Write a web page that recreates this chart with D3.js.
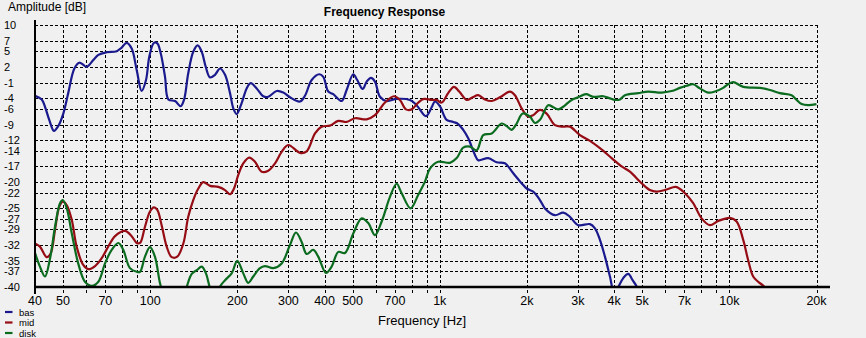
<!DOCTYPE html>
<html>
<head>
<meta charset="utf-8">
<script src="https://cdn.jsdelivr.net/npm/d3@7"></script>
<style>
  html, body { margin: 0; padding: 0; background: #f0f0f0; }
  svg { display: block; font-family: "Liberation Sans", Arial, sans-serif; }
</style>
</head>
<body>
<svg id="chart" width="866" height="338"></svg>
<script>
// Amplitude tick values (dB) as printed on the vertical axis
const yTicks = [10, 7, 5, 2, -1, -4, -6, -9, -12, -14, -17, -20, -22, -25, -27, -29, -32, -35, -37, -40];
// Frequencies with a vertical grid line (Hz)
const xGrid = [50, 60, 70, 80, 90, 100, 200, 300, 400, 500, 600, 700, 800, 900,
               1000, 2000, 3000, 4000, 5000, 6000, 7000, 8000, 9000, 10000, 20000];
// Frequencies with a printed label
const xLabels = [40, 50, 70, 100, 200, 300, 400, 500, 700, 1000, 2000, 3000, 4000, 5000, 7000, 10000, 20000];

// Measured responses: [frequency Hz, amplitude dB]
const bas = [[40,-3.5],[42.2,-4.2],[43.3,-5.6],[44.8,-8.1],[46.5,-10.2],[48.1,-9.3],[50.1,-6.9],[52.1,-3.0],
  [54.7,1.7],[56.9,2.8],[58.7,2.4],[60.3,2.0],[63.6,3.3],[66.2,4.3],[70.7,4.8],[76.6,5.0],[79.7,5.7],[82.9,6.6],
  [86.3,5.5],[89.8,1.4],[93.4,-2.6],[96.7,-0.5],[99.3,4.0],[103,6.6],[105.8,6.5],[108.7,4.6],[112.5,0.1],
  [115.5,-4.2],[121.8,-4.5],[127.4,-5.5],[130.8,-4.3],[135.3,0.8],[140.8,4.9],[145.8,6.1],[150.6,4.9],[155.5,2.0],
  [160.9,0.0],[167.4,0.5],[174.2,1.7],[181.3,0.5],[188.6,-3.0],[193.6,-5.9],[198.9,-7.0],[206.9,-4.9],[215.3,-2.1],
  [222.3,-1.1],[233.2,-2.1],[245.7,-3.6],[255.6,-3.7],[273.4,-2.6],[288.1,-2.9],[303.8,-3.8],[329,-4.6],[342.3,-3.5],
  [361.1,-0.5],[383.5,0.6],[396,0.1],[412,-2.7],[428.7,-3.2],[458.2,-4.5],[476.8,-2.4],[502.5,0.6],[518.7,-0.5],
  [541.6,-2.2],[559.1,-0.8],[578.5,-0.1],[597.2,-0.8],[621.4,-3.7],[655.4,-4.5],[709.6,-4.1],[788.8,-4.3],
  [831.8,-5.3],[896,-7.4],[937.4,-5.7],[962.3,-4.6],[1001,-5.5],[1056,-8.1],[1113,-8.5],[1158,-8.9],[1205,-10.0],
  [1254,-11.6],[1288,-13.2],[1323,-14.8],[1357,-15.8],[1470,-15.4],[1572,-16.2],[1679,-16.4],[1794,-18.3],
  [1917,-20.2],[1995,-21.2],[2102,-21.8],[2218,-23.4],[2308,-25.0],[2499,-26.3],[2669,-25.8],[2815,-26.6],
  [3008,-28.2],[3301,-28.0],[3435,-28.8],[3574,-31.0],[3719,-34.2],[3870,-38.0],[3990,-40.8],[4090,-40.4],
  [4301,-38.3],[4475,-37.5],[4634,-38.7],[4807,-40.1],[5000,-43]];

const mid = [[40,-31.7],[41.6,-32.3],[43.9,-34.3],[45.3,-33.6],[46.9,-29.1],[48.5,-24.7],[49.9,-23.7],[51.5,-24.4],
  [53.6,-27.2],[55.7,-32.3],[58.7,-35.8],[61.1,-36.6],[64.5,-36.0],[68,-34.5],[71.6,-32.3],[75.6,-30.3],[81.8,-29.3],
  [86.3,-30.3],[89.8,-31.6],[92.2,-31.6],[95.9,-28.5],[99.8,-25.6],[103,-24.8],[105.8,-25.3],[109.5,-28.2],[114,-32.3],
  [118.6,-34.3],[124,-34.2],[130.1,-31.7],[135.3,-26.6],[140.8,-23.4],[146.6,-21.2],[152.5,-20.0],[160.9,-20.7],
  [171.8,-20.9],[181.3,-21.5],[188.6,-22.3],[194.7,-21.2],[201.4,-18.6],[209.6,-16.4],[219.8,-15.3],[230,-16.1],
  [242.6,-18.0],[255.6,-17.8],[269.7,-16.4],[284.4,-14.2],[299.7,-12.9],[329,-14.4],[347,-14.1],[370.7,-10.7],
  [391,-9.4],[417.6,-9.2],[446.1,-8.3],[476.8,-8.5],[509.3,-7.8],[559.1,-8.0],[597.2,-7.2],[646.6,-4.8],[694.5,-3.6],
  [728.5,-4.3],[764.1,-6.1],[799.5,-6.1],[842.6,-4.8],[881.7,-4.1],[937.4,-4.3],[975.5,-4.3],[1015,-4.8],[1069,-3.0],
  [1119,-1.8],[1167,-2.7],[1238,-4.3],[1299,-3.8],[1357,-3.4],[1432,-4.2],[1511,-4.5],[1613,-3.8],[1747,-2.7],
  [1818,-3.4],[1917,-5.9],[2021,-7.5],[2102,-7.2],[2218,-6.2],[2339,-6.9],[2499,-9.1],[2669,-9.4],[2815,-9.4],
  [3048,-11.0],[3301,-12.1],[3574,-13.5],[3922,-15.4],[4246,-17.0],[4535,-18.0],[4977,-20.2],[5317,-21.5],
  [5608,-21.8],[6073,-21.4],[6538,-20.9],[7024,-22.1],[7503,-24.0],[8020,-26.9],[8567,-28.2],[9152,-27.4],
  [10046,-26.8],[10595,-27.5],[11166,-31.0],[11618,-34.9],[12088,-38.0],[12578,-39.0],[13268,-40.1],[14000,-43]];

const disk = [[40,-33.5],[41.6,-36.1],[43.3,-38.0],[45.1,-34.5],[46.9,-28.5],[48.8,-24.0],[49.9,-23.4],[51.5,-25.0],
  [53.6,-29.8],[56.4,-35.5],[59.5,-39.0],[62.8,-39.8],[66.2,-39.0],[69.8,-35.5],[73.6,-32.9],[77.6,-31.6],[80.7,-32.9],
  [85.1,-36.4],[89.8,-37.1],[92.2,-37.1],[95.9,-34.2],[99.8,-32.4],[103.8,-34.2],[108.1,-39.3],[110.9,-41.3],
  [121.8,-45],[130,-42],[133.6,-40.0],[139.1,-37.5],[144.7,-36.8],[150.6,-36.1],[155.8,-37.4],[160.9,-40.2],
  [167.4,-42],[174.2,-39.9],[181.3,-38.7],[191.1,-37.4],[199.8,-35.0],[209.6,-37.4],[218,-39.2],[226.9,-38.0],
  [239.3,-36.4],[249,-36.0],[266.1,-36.4],[284.4,-35.5],[303.8,-32.0],[318.6,-29.6],[333.4,-31.4],[347,-33.7],
  [365.7,-32.9],[380.4,-34.2],[404.4,-37.3],[423.2,-36.1],[446.1,-33.3],[470.5,-33.5],[502.5,-29.8],[537.3,-26.9],
  [566.2,-27.8],[597.2,-30.1],[630,-27.5],[673,-22.8],[709.6,-20.3],[738.5,-22.1],[793,-25.0],[842.6,-22.4],
  [888.8,-19.9],[924.8,-17.4],[987.9,-16.1],[1084,-16.3],[1144,-15.4],[1205,-13.4],[1271,-13.2],[1341,-13.9],
  [1413,-11.0],[1511,-10.7],[1635,-8.8],[1702,-9.3],[1771,-10.0],[1843,-8.8],[1933,-6.9],[2048,-7.5],[2131,-8.7],
  [2218,-8.1],[2368,-5.3],[2465,-5.7],[2565,-6.1],[2669,-5.6],[2853,-4.3],[3008,-3.8],[3197,-3.2],[3388,-3.7],
  [3669,-3.6],[3870,-4.0],[4026,-4.3],[4189,-4.2],[4359,-3.4],[4846,-3.0],[5246,-2.7],[5835,-2.9],[6320,-2.6],
  [6750,-2.0],[7118,-1.6],[7503,-1.3],[7911,-2.1],[8451,-2.9],[8913,-2.7],[9524,-2.0],[9910,-1.3],[10311,-0.9],
  [11166,-1.8],[12751,-2.0],[13808,-2.4],[14949,-3.0],[16406,-3.4],[17076,-4.3],[17769,-5.1],[18725,-5.3],[20000,-5.1]];

const seriesNames = ["bas", "mid", "disk"];
const seriesColors = ["#1a1a8e", "#960c14", "#0b6b1f"];
const seriesData = [bas, mid, disk];

const svg = d3.select("#chart");
const plotLeft = 35, plotRight = 816.5, plotTop = 25, plotBottom = 287;

const x = d3.scaleLog().domain([40, 20000]).range([plotLeft, plotRight]);
const y = d3.scaleLinear().domain([10, -40]).range([plotTop, plotBottom]);
const px = v => Math.round(v) + 0.5;

// Horizontal dashed grid
svg.append("g").selectAll("line").data(yTicks.filter(d => d !== -40)).join("line")
  .attr("x1", plotLeft).attr("x2", plotRight + 0.5)
  .attr("y1", d => px(y(d))).attr("y2", d => px(y(d)))
  .attr("stroke", "#000").attr("stroke-width", 1).attr("stroke-dasharray", "3,2")
  .attr("shape-rendering", "crispEdges");

// Vertical dashed grid, running a little below the frequency axis as tick marks
svg.append("g").selectAll("line").data(xGrid).join("line")
  .attr("x1", d => px(x(d))).attr("x2", d => px(x(d)))
  .attr("y1", plotTop).attr("y2", plotBottom + 8)
  .attr("stroke", "#000").attr("stroke-width", 1).attr("stroke-dasharray", "3,2")
  .attr("shape-rendering", "crispEdges");

// Response curves, clipped to the plotting area
svg.append("defs").append("clipPath").attr("id", "plotClip")
  .append("rect").attr("x", plotLeft).attr("y", plotTop - 6)
  .attr("width", plotRight - plotLeft + 2).attr("height", plotBottom - plotTop + 6);

const line = d3.line()
  .x(d => x(d[0])).y(d => y(d[1]))
  .curve(d3.curveCatmullRom.alpha(0.5));

svg.append("g").attr("clip-path", "url(#plotClip)")
  .selectAll("path").data(seriesData).join("path")
  .attr("d", line)
  .attr("fill", "none")
  .attr("stroke", (d, i) => seriesColors[i])
  .attr("stroke-width", 2.2)
  .attr("stroke-linejoin", "round");

// Axis lines
svg.append("line").attr("x1", plotLeft).attr("x2", plotLeft).attr("y1", 20).attr("y2", plotBottom + 7)
  .attr("stroke", "#000").attr("stroke-width", 2);
svg.append("line").attr("x1", plotLeft - 1).attr("x2", 830).attr("y1", plotBottom).attr("y2", plotBottom)
  .attr("stroke", "#000").attr("stroke-width", 2.4);

// Amplitude tick labels
svg.append("g").selectAll("text").data(yTicks).join("text")
  .attr("x", 4).attr("y", d => y(d) + 4)
  .attr("font-size", 11).attr("fill", "#000")
  .text(d => d);

// Frequency tick labels
const fmt = d => d >= 1000 ? (d / 1000) + "k" : String(d);
svg.append("g").selectAll("text").data(xLabels).join("text")
  .attr("x", d => x(d)).attr("y", 304.5)
  .attr("text-anchor", "middle").attr("font-size", 12.5).attr("fill", "#000")
  .text(fmt);

// Titles
svg.append("text").attr("x", 384.5).attr("y", 16).attr("text-anchor", "middle")
  .attr("font-size", 12).attr("font-weight", "bold").attr("fill", "#000").text("Frequency Response");
svg.append("text").attr("x", 8).attr("y", 11)
  .attr("font-size", 12).attr("fill", "#000").text("Amplitude [dB]");
svg.append("text").attr("x", 378).attr("y", 325)
  .attr("font-size", 13).attr("fill", "#000").text("Frequency [Hz]");

// Legend
const legend = svg.append("g").selectAll("g").data(seriesNames).join("g")
  .attr("transform", (d, i) => `translate(0, ${312 + i * 10.5})`);
legend.append("line").attr("x1", 5).attr("x2", 12.5).attr("y1", 0).attr("y2", 0)
  .attr("stroke", (d, i) => seriesColors[i]).attr("stroke-width", 2.2);
legend.append("text").attr("x", 19).attr("y", 3.5)
  .attr("font-size", 9.5).attr("fill", "#000").text(d => d);
</script>
</body>
</html>
